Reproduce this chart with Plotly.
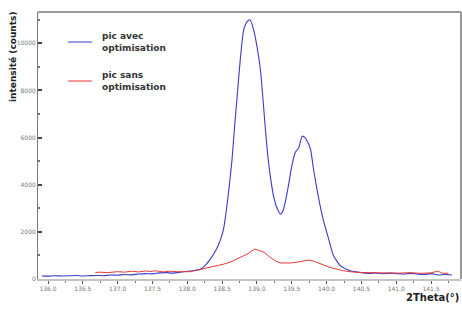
import plotly.graph_objects as go

# ---- data ----
blue_x = [135.91, 136.0, 136.1, 136.2, 136.3, 136.4, 136.5, 136.6, 136.7, 136.8, 136.9,
          137.0, 137.1, 137.2, 137.3, 137.4, 137.5, 137.6, 137.7, 137.8, 137.9, 138.0,
          138.1, 138.18, 138.25, 138.33, 138.42, 138.48, 138.52, 138.56, 138.6, 138.64,
          138.68, 138.72, 138.76, 138.81, 138.86, 138.90, 138.95, 139.0, 139.05, 139.09,
          139.12, 139.15, 139.19, 139.24, 139.29, 139.34, 139.38, 139.42, 139.46, 139.5,
          139.55, 139.6, 139.65, 139.69, 139.73, 139.77, 139.81, 139.88, 139.95, 140.03,
          140.1, 140.2, 140.34, 140.48, 140.6, 140.7, 140.8, 140.9, 141.0, 141.1, 141.2,
          141.3, 141.4, 141.5, 141.6, 141.7, 141.8]
blue_y = [130, 120, 140, 125, 135, 150, 130, 145, 150, 140, 170,
          160, 190, 175, 210, 230, 220, 260, 270, 250, 290, 330,
          360, 400, 560, 846, 1270, 1700, 2115, 2900, 3900, 5000,
          6500, 7900, 9300, 10575, 10925, 11000, 10600, 9870, 8880, 7500,
          6400, 5400, 4400, 3500, 3000, 2750, 2950, 3450, 4100, 4790,
          5370, 5570, 6060, 6000, 5800, 5500, 4700, 3520, 2540, 1690,
          985, 560, 350, 280, 240, 260, 220, 250, 230, 200, 240,
          210, 190, 230, 170, 190, 170]

red_x = [136.68, 136.75, 136.85, 136.93, 137.0, 137.1, 137.2, 137.3, 137.4, 137.47,
         137.55, 137.65, 137.75, 137.85, 137.95, 138.04, 138.15, 138.25, 138.33, 138.42,
         138.52, 138.62, 138.71, 138.8, 138.86, 138.92, 138.97, 139.02, 139.1, 139.19,
         139.27, 139.34, 139.41, 139.48, 139.55, 139.62, 139.68, 139.74, 139.81, 139.88,
         139.96, 140.05, 140.15, 140.24, 140.34, 140.44, 140.6, 140.75, 140.9, 141.05,
         141.2, 141.35, 141.5, 141.6, 141.65, 141.75]
red_y = [275, 290, 270, 300, 310, 290, 330, 300, 340, 320,
         350, 300, 330, 310, 320, 310, 380, 440, 490, 560,
         630, 720, 846, 950, 1060, 1180, 1270, 1220, 1140, 920,
         760, 680, 670, 680, 700, 730, 770, 800, 760, 680,
         580, 490, 420, 350, 310, 280, 270, 260, 280, 250,
         270, 240, 260, 340, 250, 240]

x_ticks = [136.0, 136.5, 137.0, 137.5, 138.0, 138.5, 139.0, 139.5, 140.0, 140.5, 141.0, 141.5]
y_ticks = [0, 2000, 4000, 6000, 8000, 10000]

series_names = ["pic avec<br>optimisation", "pic sans<br>optimisation"]
series_colors = ["#3a3acc", "#e23a3a"]

fig = go.Figure()
fig.add_trace(go.Scatter(x=blue_x, y=blue_y, mode="lines", line_shape="spline",
                         line=dict(color=series_colors[0], width=1.1, smoothing=0.6),
                         showlegend=False))
fig.add_trace(go.Scatter(x=red_x, y=red_y, mode="lines",
                         line=dict(color=series_colors[1], width=1.0), showlegend=False))

fig.update_layout(
    width=462, height=309,
    margin=dict(l=38, r=1, t=12, b=30),
    paper_bgcolor="white", plot_bgcolor="white",
    xaxis=dict(range=[135.856, 141.93], tickvals=x_ticks,
               ticktext=[f"{v:.1f}" for v in x_ticks],
               showgrid=False, zeroline=False, showline=True,
               linecolor="#c4c4c4", linewidth=2,
               ticks="outside", ticklen=3, tickcolor="#555", tickwidth=1,
               minor=dict(dtick=0.25, tick0=136.0, ticks="outside", ticklen=2, tickcolor="#777"),
               tickfont=dict(size=6, color="#777", family="DejaVu Sans")),
    yaxis=dict(range=[0, 11330], tickvals=y_ticks,
               ticktext=[str(v) for v in y_ticks],
               showgrid=False, zeroline=False, showline=True,
               linecolor="#777", linewidth=1,
               ticks="inside", ticklen=4, tickcolor="#444", tickwidth=1.5,
               minor=dict(dtick=1000, ticks="inside", ticklen=2, tickcolor="#777"),
               tickfont=dict(size=6, color="#777", family="DejaVu Sans")),
)

# frame (top and right)
fig.add_shape(type="line", xref="paper", yref="paper", x0=0, x1=1, y0=1, y1=1,
              line=dict(color="#999", width=2))
fig.add_shape(type="line", xref="paper", yref="paper", x0=1, x1=1, y0=0, y1=1,
              line=dict(color="#999", width=2))

# legend
leg_y = [42, 81]
for name, col, yy in zip(series_names, series_colors, leg_y):
    yp = 1 - (yy - 12) / 267
    fig.add_shape(type="line", xref="paper", yref="paper",
                  x0=(68 - 38) / 423, x1=(92 - 38) / 423, y0=yp, y1=yp,
                  line=dict(color=col, width=1))
    fig.add_annotation(text="<b>" + name + "</b>", xref="paper", yref="paper",
                       x=(100 - 38) / 423, y=yp, xanchor="left", yanchor="middle",
                       align="left", showarrow=False,
                       font=dict(size=9, color="#333", family="DejaVu Sans"))

fig.add_annotation(text="<b>intensité (counts)</b>", xref="paper", yref="paper",
                   x=(13 - 38) / 423, y=1 - (57 - 12) / 267, textangle=-90,
                   xanchor="center", yanchor="middle", showarrow=False,
                   font=dict(size=9, color="#222", family="DejaVu Sans"))
fig.add_annotation(text="<b>2Theta(°)</b>", xref="paper", yref="paper",
                   x=1, y=-(297 - 279) / 267, xanchor="right", yanchor="middle",
                   showarrow=False,
                   font=dict(size=10, color="#222", family="DejaVu Sans"))

fig.write_html("out.html")
